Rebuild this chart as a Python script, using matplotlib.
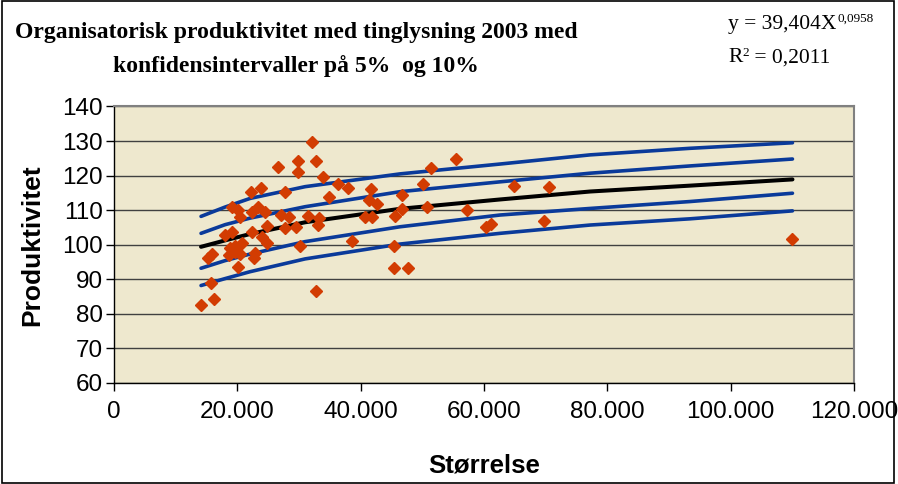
import matplotlib
matplotlib.use('Agg')
import matplotlib.pyplot as plt
from matplotlib.ticker import FuncFormatter, MultipleLocator
from matplotlib.patches import Rectangle

# scatter data (størrelse, produktivitet)
size_x = [32160, 26550, 29800, 32760, 29800, 33950, 36280, 37900, 34870, 41300,
          22170, 23840, 27740, 19090, 20060, 20440, 22330, 23310, 24490, 27040,
          28390, 31520, 33250, 33140, 27740, 29520, 24770, 22430, 18000, 19190,
          23960, 24870, 20710, 18820, 19630, 20440, 18700, 22870, 22710, 15850,
          15300, 30170, 38650, 20060, 15680, 16220, 14110, 32760, 40710, 41800,
          41640, 42610, 46660, 46660, 45580, 45460, 45460, 47640, 50170, 51370,
          50720, 55470, 57300, 60290, 61100, 64930, 69750, 70610, 110020, 19630]
prod_y = [129.6, 122.6, 124.3, 124.3, 121.1, 119.5, 117.5, 116.3, 113.7, 112.9,
          115.3, 116.3, 115.3, 110.8, 110.1, 108.0, 109.6, 111.0, 109.6, 108.6,
          108.0, 108.3, 107.7, 105.7, 104.8, 105.1, 105.4, 103.8, 102.8, 103.8,
          102.3, 100.4, 100.4, 99.0, 98.0, 97.3, 97.1, 97.5, 96.3, 97.3,
          96.1, 99.7, 101.1, 93.7, 89.0, 84.2, 82.6, 86.7, 107.9, 107.9,
          116.0, 111.8, 114.4, 110.3, 108.3, 99.7, 93.2, 93.2, 117.5, 122.1,
          111.0, 124.8, 110.1, 105.2, 106.0, 117.0, 106.9, 116.8, 101.6, 99.5]

# trend line and confidence bands read at these x values
line_x = [14110, 18000, 22060, 30980, 46390, 62610, 77210, 93430, 110020]
trend = [99.4, 101.25, 103.1, 106.5, 110.4, 113.1, 115.4, 117.1, 118.9]
upper10 = [108.2, 110.9, 113.4, 116.8, 120.5, 123.35, 126.0, 127.9, 129.5]
upper5 = [103.3, 105.8, 107.7, 111.0, 115.35, 118.2, 120.7, 122.8, 124.8]
lower5 = [93.2, 95.4, 97.3, 100.9, 105.2, 108.6, 110.5, 112.5, 114.9]
lower10 = [88.2, 90.2, 92.2, 95.9, 100.2, 103.3, 105.7, 107.5, 109.8]

fig = plt.figure(figsize=(8.98, 4.84), dpi=100)
ax = fig.add_axes([0.127, 0.2087, 0.824, 0.5713])
ax.set_facecolor('#EEE8CE')

blue = '#0A3A9A'
for band in [upper10, upper5, lower5, lower10]:
    ax.plot(line_x, band, color=blue, lw=2.6, solid_capstyle='round', zorder=3)
ax.plot(line_x, trend, color='black', lw=2.9, solid_capstyle='round', zorder=4)
ax.plot(size_x, prod_y, linestyle='none', marker='D', ms=6.5,
        color='#D23C02', mec='#D23C02', zorder=5)

ax.set_xlim(0, 120000)
ax.set_ylim(60, 140)
ax.xaxis.set_major_locator(MultipleLocator(20000))
ax.yaxis.set_major_locator(MultipleLocator(10))
ax.xaxis.set_major_formatter(FuncFormatter(lambda v, p: f'{int(v):,}'.replace(',', '.')))
ax.yaxis.grid(True, color='#404040', lw=1)
ax.set_axisbelow(True)

for side in ['top', 'right']:
    ax.spines[side].set_color('#808080')
    ax.spines[side].set_linewidth(1.5)
for side in ['left', 'bottom']:
    ax.spines[side].set_color('black')
    ax.spines[side].set_linewidth(1)

ax.tick_params(axis='both', direction='out', length=6, width=1, color='black',
               labelsize=17.5, labelfontfamily='Liberation Sans')
ax.tick_params(axis='y', pad=2)
ax.tick_params(axis='x', pad=7)

ax.set_xlabel('Størrelse', fontsize=18.5, fontweight='bold', family='Liberation Sans', labelpad=22)
ax.set_ylabel('Produktivitet', fontsize=19, fontweight='bold', family='Liberation Sans', labelpad=13)

fig.text(296 / 898, 1 - 33 / 484, 'Organisatorisk produktivitet med tinglysning 2003 med',
         ha='center', va='center', fontsize=17, fontweight='bold', family='Liberation Serif')
fig.text(296 / 898, 1 - 66 / 484, 'konfidensintervaller på 5%  og 10%',
         ha='center', va='center', fontsize=17, fontweight='bold', family='Liberation Serif')

# equation and R² in the top right corner
eq = fig.text(728 / 898, 1 - 24 / 484, 'y = 39,404X', ha='left', va='center',
              fontsize=15.5, family='Liberation Serif')
ax.annotate('0,0958', xy=(1, 1), xycoords=eq, xytext=(0.5, -3), textcoords='offset points',
            ha='left', va='center', fontsize=9.5, family='Liberation Serif', annotation_clip=False)
r2 = fig.text(728 / 898, 1 - 58 / 484, 'R', ha='left', va='center',
              fontsize=15.5, family='Liberation Serif')
sup2 = ax.annotate('2', xy=(1, 1), xycoords=r2, xytext=(0.3, -3), textcoords='offset points',
                   ha='left', va='center', fontsize=9.5, family='Liberation Serif',
                   annotation_clip=False)
ax.annotate(' = 0,2011', xy=(1, 0.5), xycoords=(sup2, r2), ha='left', va='center',
            fontsize=15.5, family='Liberation Serif', annotation_clip=False)

fig.patches.append(Rectangle((0.002, 0.003), 0.994, 0.994, transform=fig.transFigure,
                             fill=False, edgecolor='black', lw=1.2))

fig.savefig('out.png', dpi=100)
